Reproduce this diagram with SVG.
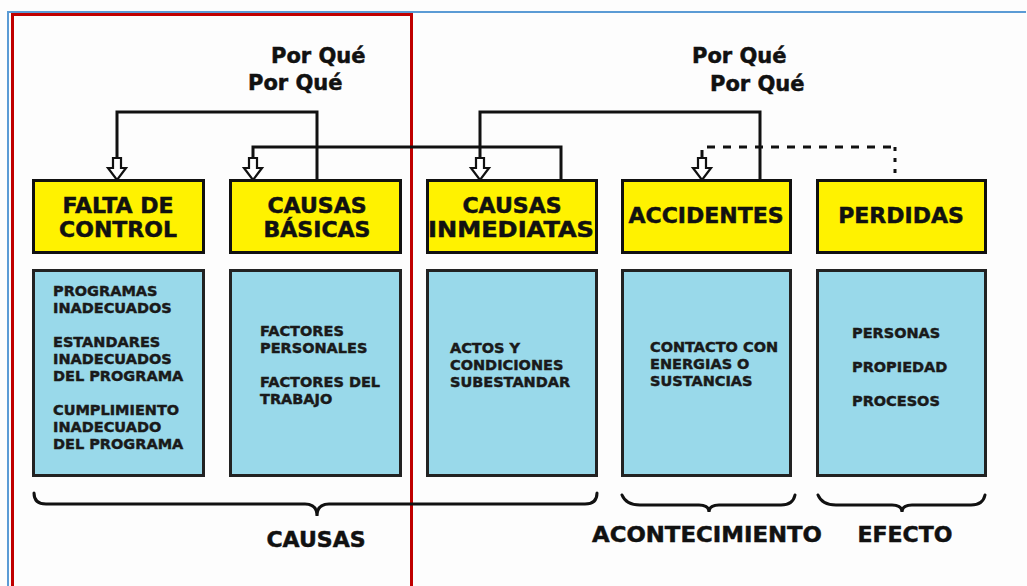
<svg xmlns="http://www.w3.org/2000/svg" width="1027" height="586" viewBox="0 0 1027 586">
<defs>
<style>
.t{font-family:"DejaVu Sans",Verdana,sans-serif;font-weight:bold;fill:#111;stroke:#111;stroke-width:0.5;}
.h{font-size:22px;text-anchor:middle;}
.s{font-size:14.5px;fill:#1a1a1a;stroke:#1a1a1a;stroke-width:0.45;}
.q{font-size:21px;}
.b{font-size:22px;text-anchor:middle;}
.y{fill:#fff200;stroke:#111;stroke-width:3;}
.c{fill:#99d9ea;stroke:#222;stroke-width:3;}
.ln{fill:none;stroke:#111;stroke-width:3;}
.ar{fill:#fff;stroke:#111;stroke-width:2.2;stroke-linejoin:miter;}
.br{fill:none;stroke:#111;stroke-width:3;stroke-linecap:round;}
</style>
</defs>
<rect width="1027" height="586" fill="#fdfdfd"/>
<path d="M8,600 L8,12 L1026,12" fill="none" stroke="#5b9bd5" stroke-width="2"/>
<rect x="12.5" y="14.5" width="399" height="600" fill="none" stroke="#c00000" stroke-width="3"/>

<g id="porque">
<text class="t q" x="271" y="63">Por Qué</text>
<text class="t q" x="248" y="90">Por Qué</text>
<text class="t q" x="692" y="63">Por Qué</text>
<text class="t q" x="710" y="91">Por Qué</text>
</g>

<g id="connectors">
<path class="ln" d="M317,180 L317,112 L117,112 L117,158"/>
<polygon class="ar" points="113,158 121,158 121,168 126,168 117,180 108,168 113,168"/>
<path class="ln" d="M561,180 L561,147 L253,147 L253,158"/>
<polygon class="ar" points="249,158 257,158 257,168 262,168 253,180 244,168 249,168"/>
<path class="ln" d="M760,180 L760,112 L480,112 L480,158"/>
<polygon class="ar" points="476,158 484,158 484,168 489,168 480,180 471,168 476,168"/>
<path class="ln" d="M702,158 L702,147 L895,147" stroke-dasharray="8,8"/>
<path class="ln" d="M895,147 L895,180" stroke-dasharray="4,7"/>
<polygon class="ar" points="698,158 706,158 706,168 711,168 702,180 693,168 698,168"/>
</g>

<g id="falta">
<rect class="y" x="33.5" y="180.5" width="170" height="72"/>
<text class="t h" x="118" y="213">FALTA DE</text>
<text class="t h" x="118" y="237">CONTROL</text>
<rect class="c" x="33.5" y="270.5" width="170" height="205"/>
<text class="t s" x="53" y="296">PROGRAMAS</text>
<text class="t s" x="53" y="313">INADECUADOS</text>
<text class="t s" x="53" y="347">ESTANDARES</text>
<text class="t s" x="53" y="364">INADECUADOS</text>
<text class="t s" x="53" y="381">DEL PROGRAMA</text>
<text class="t s" x="53" y="415">CUMPLIMIENTO</text>
<text class="t s" x="53" y="432">INADECUADO</text>
<text class="t s" x="53" y="449">DEL PROGRAMA</text>
</g>

<g id="basicas">
<rect class="y" x="230.5" y="180.5" width="170" height="72"/>
<text class="t h" x="317" y="213">CAUSAS</text>
<text class="t h" x="317" y="237">BÁSICAS</text>
<rect class="c" x="230.5" y="270.5" width="170" height="205"/>
<text class="t s" x="260" y="336">FACTORES</text>
<text class="t s" x="260" y="353">PERSONALES</text>
<text class="t s" x="260" y="387">FACTORES DEL</text>
<text class="t s" x="260" y="404">TRABAJO</text>
</g>

<g id="inmediatas">
<rect class="y" x="427.5" y="180.5" width="169" height="72"/>
<text class="t h" x="512" y="213">CAUSAS</text>
<text class="t h" x="511" y="237" textLength="166" lengthAdjust="spacingAndGlyphs">INMEDIATAS</text>
<rect class="c" x="427.5" y="270.5" width="169" height="205"/>
<text class="t s" x="450" y="353">ACTOS Y</text>
<text class="t s" x="450" y="370">CONDICIONES</text>
<text class="t s" x="450" y="387">SUBESTANDAR</text>
</g>

<g id="accidentes">
<rect class="y" x="622.5" y="180.5" width="168" height="72"/>
<text class="t h" x="706" y="223">ACCIDENTES</text>
<rect class="c" x="622.5" y="270.5" width="168" height="205"/>
<text class="t s" x="650" y="352">CONTACTO CON</text>
<text class="t s" x="650" y="369">ENERGIAS O</text>
<text class="t s" x="650" y="386">SUSTANCIAS</text>
</g>

<g id="perdidas">
<rect class="y" x="817.5" y="180.5" width="168" height="72"/>
<text class="t h" x="901" y="223">PERDIDAS</text>
<rect class="c" x="817.5" y="270.5" width="168" height="205"/>
<text class="t s" x="852" y="338">PERSONAS</text>
<text class="t s" x="852" y="372">PROPIEDAD</text>
<text class="t s" x="852" y="406">PROCESOS</text>
</g>

<g id="braces">
<path class="br" d="M34,493 Q34,504 46,504 L305,504 Q317,504 317,516 Q317,504 329,504 L585,504 Q597,504 597,493"/>
<path class="br" d="M622,495 Q626,505 640,505 L699,505 Q709,505 709,512 Q709,505 719,505 L781,505 Q793,505 795,495"/>
<path class="br" d="M818,495 Q822,505 836,505 L892,505 Q902,505 902,512 Q902,505 912,505 L971,505 Q983,505 985,495"/>
</g>

<g id="labels">
<text class="t b" x="316" y="547">CAUSAS</text>
<text class="t b" x="707" y="542" textLength="230" lengthAdjust="spacingAndGlyphs">ACONTECIMIENTO</text>
<text class="t b" x="905" y="542">EFECTO</text>
</g>
</svg>
